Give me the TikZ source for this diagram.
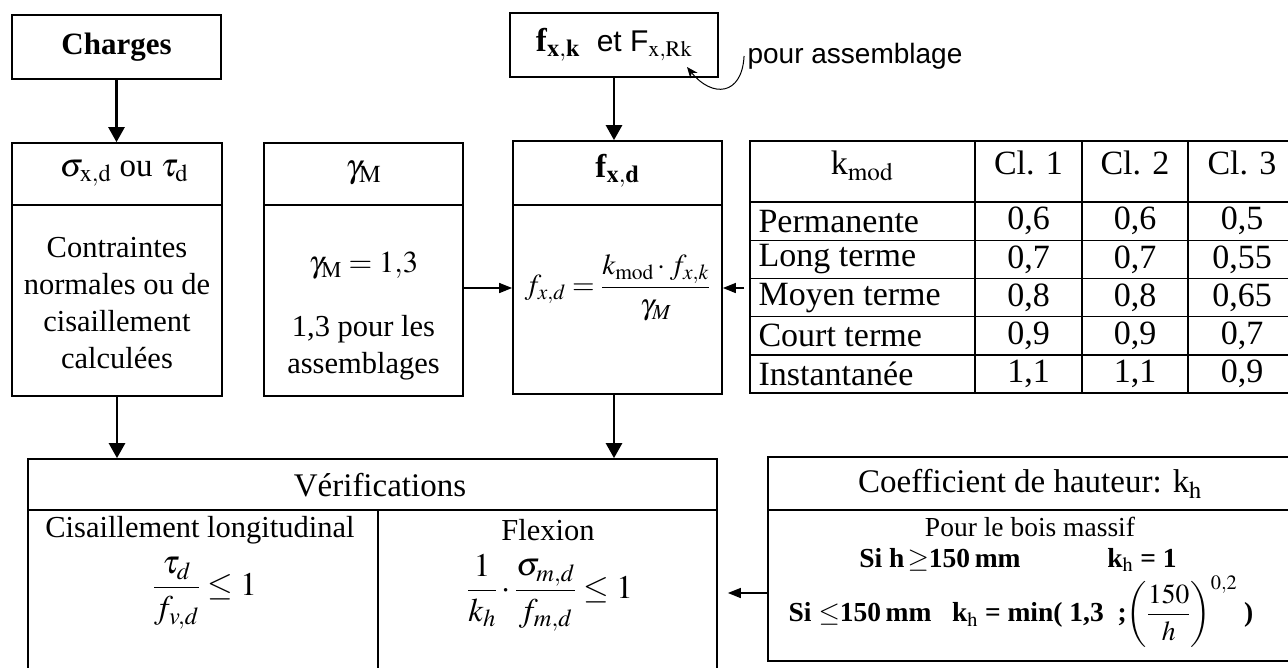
\documentclass[tikz,border=0pt]{standalone}
\usepackage{mathptmx}
\usepackage[no-math]{fontspec}
\setmainfont{Liberation Serif}
\newfontfamily\handfont{Liberation Sans}
\usetikzlibrary{arrows.meta}
\tikzset{
  box/.style={draw, line width=1.7pt, inner sep=0pt},
  flow/.style={-{Triangle[length=15pt,width=16pt]}, line width=2.6pt},
  side flow/.style={-{Triangle[length=13pt,width=10pt]}, line width=1.4pt},
  rule/.style={line width=1.4pt},
  hd/.style={font=\fontsize{33}{39}\selectfont},
  hand/.style={font=\fontsize{28}{34}\selectfont\handfont},
  txt/.style={font=\fontsize{30.5}{37}\selectfont, align=center},
  eq/.style={font=\fontsize{33}{39}\selectfont, inner sep=1pt},
  small/.style={font=\fontsize{27.5}{33}\selectfont, inner sep=0.5pt},
  tab/.style={font=\fontsize{34}{40}\selectfont},
}
\begin{document}
\begin{tikzpicture}[x=1pt,y=-1pt]
\useasboundingbox (0,0) rectangle (1288,667);
\clip (0,0) rectangle (1288,667);
% top row
\node[box, minimum width=209pt, minimum height=64pt, font=\fontsize{31}{37}\selectfont] (charges) at (116.5,47) {\textbf{Charges}};
\node[box, minimum width=208pt, minimum height=64pt, hd] (fxk) at (614,45)
  {\textbf{f}$_{\mathbf{x,k}}$ \ {\handfont\fontsize{30}{36}\selectfont et F$_{\mathrm{x,Rk}}$}};
\node[hand] (note) at (855,56) {pour assemblage};
\coordinate (notetip) at (687,67);
\draw[-{Stealth[length=11pt,width=9pt]}, line width=1pt] (note.west) .. controls (742,96) and (712,98) .. (notetip);
% middle row
\node[box, minimum width=210pt, minimum height=253pt] (sigma) at (117,269.5) {};
\node[box, minimum width=199pt, minimum height=253pt] (gammaM) at (363.5,269.5) {};
\node[box, minimum width=209pt, minimum height=253pt] (fxd) at (617.5,267.5) {};
\draw[rule] (sigma.west |- 0,205) -- (sigma.east |- 0,205);
\draw[rule] (gammaM.west |- 0,205) -- (gammaM.east |- 0,205);
\draw[rule] (fxd.west |- 0,205) -- (fxd.east |- 0,205);
\node[hd] (sigmahd) at (124,173) {$\sigma_{\mathrm{x,d}}$\ ou\ $\tau_{\mathrm{d}}$};
\node[hd] (gammahd) at (363.5,173) {$\gamma_{\mathrm{M}}$};
\node[hd] (fxdhd) at (617.5,171) {\textbf{f}$_{\mathbf{x,d}}$};
\node[txt] (sigmatxt) at (117,303) {Contraintes\\normales ou de\\cisaillement\\calculées};
\node[txt] (gammatxt) at (363.5,266) {$\gamma_{\mathrm{M}}=1{,}3$};
\node[txt] (gammaass) at (363.5,348) {1,3 pour les\\assemblages};
\node[txt, font=\fontsize{29}{35}\selectfont] (fxdeq) at (617.5,288) {$f_{x,d}=\displaystyle\frac{k_{\mathrm{mod}}\cdot f_{x,k}}{\gamma_M}$};
% k_mod table
\node[box, minimum width=546pt, minimum height=252pt] (kmodtab) at (1023,267) {};
\foreach \k in {1,...,5} \draw[rule] (750,{202+38.2*(\k-1)}) -- (1296,{202+38.2*(\k-1)});
\foreach \x in {975,1082,1188} \draw[rule] (\x,141) -- (\x,393);
\node[tab] (kmodhd) at (862,166) {k$_{\mathrm{mod}}$};
\foreach \c/\x [count=\j] in {Cl. 1/1028.5,Cl. 2/1135,Cl. 3/1242}
  \node[tab] (cl\j) at (\x,163) {\c};
\foreach \lab/\a/\b/\c [count=\i] in {Permanente/{0,6}/{0,6}/{0,5},Long terme/{0,7}/{0,7}/{0,55},
    Moyen terme/{0,8}/{0,8}/{0,65},Court terme/{0,9}/{0,9}/{0,7},Instantanée/{1,1}/{1,1}/{0,9}}{
  \node[tab, anchor=west] (lab\i) at (755,{183+38.2*\i}) {\lab};
  \node[tab] (va\i) at (1028.5,{183+38.2*\i}) {\a};
  \node[tab] (vb\i) at (1135,{183+38.2*\i}) {\b};
  \node[tab] (vc\i) at (1242,{183+38.2*\i}) {\c};
}
% bottom row
\node[box, minimum width=689pt, minimum height=225pt] (verif) at (372.5,571.5) {};
\draw[rule] (verif.west |- 0,510) -- (verif.east |- 0,510);
\draw[rule] (378,510) -- (378,684);
\node[hd] (verifhd) at (380,485) {Vérifications};
\node[txt, inner sep=1pt] (cis) at (200,530) {Cisaillement longitudinal};
\node[eq] (ciseq) at (205,593) {$\displaystyle\frac{\tau_d}{f_{v,d}}\le 1$};
\node[txt, inner sep=1pt] (flex) at (548,530) {Flexion};
\node[eq] (flexeq) at (550,593) {$\displaystyle\frac{1}{k_h}\cdot\frac{\sigma_{m,d}}{f_{m,d}}\le 1$};
\node[box, minimum width=532pt, minimum height=204pt] (coef) at (1034,559) {};
\draw[rule] (coef.west |- 0,510) -- (coef.east |- 0,510);
\node[hd] (coefhd) at (1030,484) {Coefficient de hauteur: k$_{\mathrm{h}}$};
\node[small] (massif) at (1030,527) {Pour le bois massif};
\node[small] (sihaut) at (940,560) {\bfseries Si h$\,\geq$150\,mm};
\node[small] (khun) at (1142,560) {\bfseries k$_{\mathrm{h}}$ = 1};
\node[small, anchor=west] (sibas) at (788,612)
  {\bfseries Si $\leq$150\,mm \ \ k$_{\mathrm{h}}$ = min( 1,3 \ ;$\displaystyle\left(\frac{150}{h}\right)^{0,2}$ )};
% connectors
\draw[flow] (charges.south) -- (charges.south |- sigma.north);
\draw[flow] (fxk.south) -- (fxk.south |- fxd.north);
\draw[side flow] (gammaM.east |- fxdeq) -- (fxd.west |- fxdeq);
\draw[side flow, shorten <=5pt] (kmodtab.west |- fxdeq) -- (fxd.east |- fxdeq);
\draw[flow] (sigma.south) -- (sigma.south |- verif.north);
\draw[flow] (fxk.south |- fxd.south) -- (fxk.south |- verif.north);
\draw[side flow, shorten >=10pt] (coef.west |- flexeq) -- (verif.east |- flexeq);
\end{tikzpicture}
\end{document}
